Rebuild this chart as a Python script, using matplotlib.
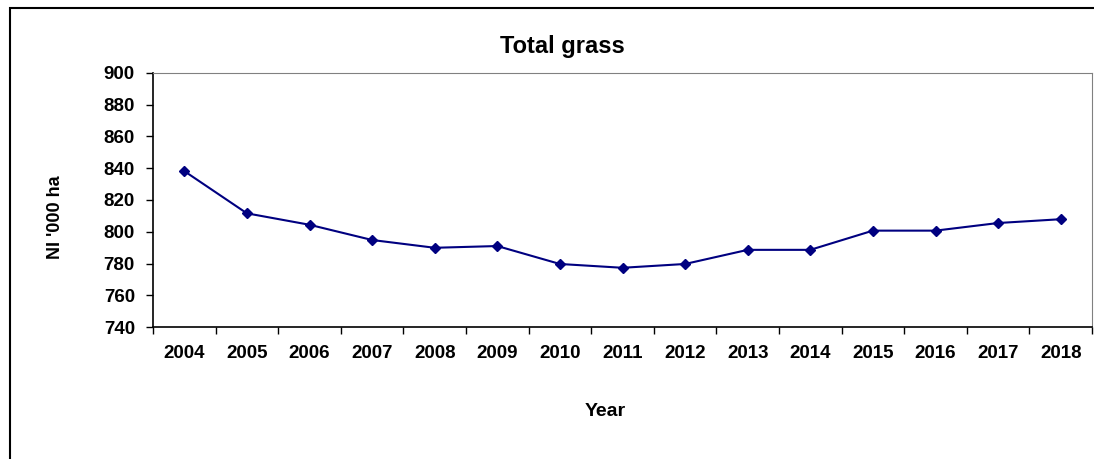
import matplotlib.pyplot as plt
from matplotlib.patches import Rectangle

plt.rcParams['font.family'] = ['Liberation Sans', 'DejaVu Sans']

# data
years = ['2004', '2005', '2006', '2007', '2008', '2009', '2010', '2011',
         '2012', '2013', '2014', '2015', '2016', '2017', '2018']
grass = [838.2, 811.6, 804.4, 794.8, 789.9, 791.0, 779.7, 777.3,
         779.7, 788.6, 788.6, 800.7, 800.7, 805.5, 807.9]
y_ticks = [740, 760, 780, 800, 820, 840, 860, 880, 900]

fig = plt.figure(figsize=(10.94, 4.59), dpi=100)
ax = fig.add_axes([153 / 1094, 1 - 327 / 459, (1092 - 153) / 1094, (327 - 73) / 459])

# outer chart border (bottom and right are cut off in the original)
fig.patches.append(Rectangle((10 / 1094, -0.2), 1.2, 1.2 - 8 / 459, transform=fig.transFigure,
                             fill=False, edgecolor='black', linewidth=1.5))

x = list(range(len(years)))
ax.plot(x, grass, color='#000080', marker='D', markersize=5, linewidth=1.5)

ax.set_ylim(740, 900)
ax.set_yticks(y_ticks)
ax.set_xlim(-0.5, len(years) - 0.5)
ax.set_xticks([i - 0.5 for i in range(len(years) + 1)])
ax.set_xticklabels([])
ax.set_xticks(x, minor=True)
ax.set_xticklabels(years, minor=True)
ax.tick_params(axis='x', which='minor', length=0, pad=13, labelsize=13.5)
ax.tick_params(axis='x', which='major', length=5, width=1, direction='out')
ax.tick_params(axis='y', length=5, width=1, direction='out', labelsize=13.5, pad=8)
for lab in ax.get_xticklabels(minor=True) + ax.get_yticklabels():
    lab.set_fontweight('bold')

ax.spines['top'].set_color('#808080')
ax.spines['right'].set_color('#808080')
ax.spines['left'].set_linewidth(1.2)
ax.spines['bottom'].set_linewidth(1.2)

fig.text(562 / 1094, 1 - 47 / 459, 'Total grass', ha='center', va='center',
         fontsize=17, fontweight='bold')
fig.text(605 / 1094, 1 - 411 / 459, 'Year', ha='center', va='center',
         fontsize=14, fontweight='bold')
fig.text(56 / 1094, 1 - 217 / 459, "NI '000 ha", ha='center', va='center',
         rotation=90, fontsize=13, fontweight='bold')

fig.savefig('out.png', dpi=100)
